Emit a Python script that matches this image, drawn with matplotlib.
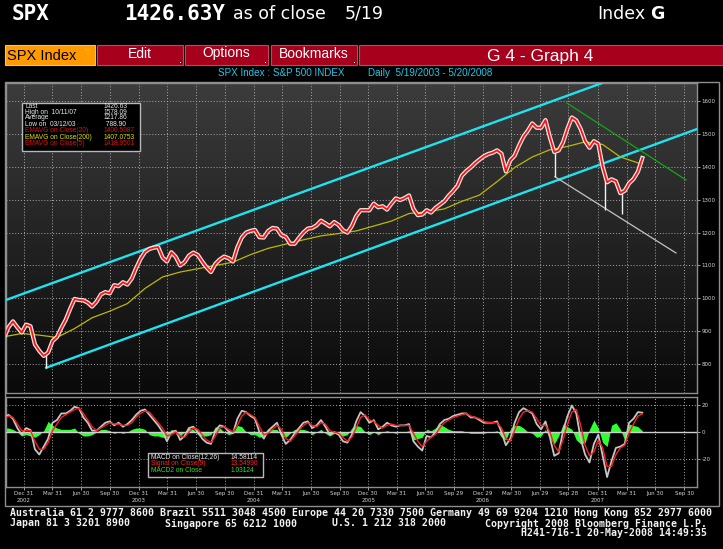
import numpy as np
import pandas as pd
import matplotlib
matplotlib.use("Agg")
import matplotlib.pyplot as plt
from matplotlib.patches import Rectangle
from matplotlib.colors import LinearSegmentedColormap

plt.rcParams["axes.unicode_minus"] = False

W, H = 723, 549

# ---- values (biweekly samples) ----
dates = pd.date_range("2002-10-29", periods=146, freq="14D")

close = [880, 912, 930, 912, 896, 920, 915, 860, 840, 825,
         835, 870, 882, 910, 935, 968, 998, 995, 994, 987,
         975, 990, 1012, 1019, 1015, 1040, 1037, 1049, 1042, 1060,
         1092, 1120, 1141, 1150, 1154, 1156, 1124, 1112, 1140, 1126,
         1100, 1110, 1130, 1139, 1132, 1112, 1094, 1080, 1105, 1118,
         1127, 1122, 1112, 1155, 1185, 1200, 1205, 1208, 1186, 1185,
         1205, 1214, 1212, 1192, 1187, 1166, 1166, 1184, 1200, 1212,
         1214, 1222, 1236, 1228, 1219, 1232, 1223, 1207, 1200, 1220,
         1250, 1268, 1268, 1268, 1288, 1277, 1280, 1270, 1288, 1304,
         1299, 1305, 1313, 1272, 1253, 1255, 1268, 1261, 1275, 1285,
         1295, 1312, 1326, 1342, 1373, 1387, 1398, 1411, 1422, 1432,
         1439, 1443, 1450, 1440, 1386, 1420, 1434, 1465, 1492, 1510,
         1532, 1519, 1519, 1542, 1490, 1445, 1450, 1475, 1516, 1550,
         1541, 1515, 1478, 1458, 1478, 1470, 1400, 1353, 1362, 1356,
         1320, 1327, 1350, 1363, 1385, 1426.63]

# 200 day EMA, read every 8 weeks
ema200_dates = dates[::4]
ema200 = [883, 893, 888, 881, 908, 941, 961, 984, 1030, 1065,
          1080, 1090, 1100, 1110, 1133, 1152, 1165, 1178, 1190, 1197,
          1205, 1220, 1235, 1258, 1263, 1272, 1295, 1314, 1355, 1398,
          1430, 1452, 1462, 1476, 1468, 1430, 1412]

# intraday lows that poke out of the band
spike_dates = pd.to_datetime(["2003-03-12", "2007-08-16", "2008-01-22", "2008-03-17"])
spike_high = [835, 1448, 1356, 1322]
spike_low = [788.9, 1370, 1270, 1256]

# drawn trend lines
upper_dates = pd.to_datetime(["2002-11-04", "2008-11-10"])
upper_vals = [995, 1760]
lower_dates = pd.to_datetime(["2003-03-12", "2008-11-10"])
lower_vals = [788.9, 1515]
down_dates = pd.to_datetime(["2007-09-23", "2008-10-06"])
down_vals = [1594, 1360]
support_dates = pd.to_datetime(["2007-08-16", "2008-09-04"])
support_vals = [1370, 1138]

macd = [11, 13, 10, 3, -2, 3, 1.5, -13, -17, -11,
        -5, 7, 9, 14, 14, 16, 19, 18, 11, 7,
        1, 1, 4, 7, 8, 5, 7, 4, 6, 9,
        13, 16, 17, 13, 9, 5, 0, -7, 0, 1,
        -6, -3, 3, 4, 0, -5, -8, -9, 1, 5,
        4, 0.5, -1, 10, 16, 15, 12, 10, 0, -5,
        1, 4, 7, -2, -9, -6, -1, 3, 7, 8,
        3, 5, 9, 4, -2, 0, -2, -7, -8, -2,
        8, 15, 12, 7, 9, 2, 4, 7, 5, 4,
        5, 5, 6, -7, -11, -14, -3, -4, 0, 6,
        9, 10, 12, 13, 14, 14, 11, 11, 9, 7,
        7, 7, 8, 0, -10, -5, 7, 15, 18, 16,
        14, 6, 2, 8, -4, -18, -16, 1, 12, 20,
        14, -5, -17, -23, -9, -2, -18, -34, -22, -12,
        -11, -9, 7, 10, 15, 14.58]

signal = [10, 12, 11, 6, 1, 1, 1, -7, -13, -13,
          -8, 1, 6, 11, 13, 15, 17, 18, 14, 9,
          4, 1, 3, 5, 7, 6, 6, 5, 5, 7,
          11, 14, 16, 15, 11, 7, 3, -3, -2, 0,
          -3, -4, 0, 3, 2, -2, -6, -8, -3, 3,
          4, 2, 0, 5, 12, 15, 13, 11, 4, -2,
          -1, 2, 5, 2, -5, -7, -3, 1, 5, 7,
          5, 4, 7, 6, 1, 0, -1, -4, -7, -4,
          3, 11, 13, 9, 8, 5, 3, 5, 6, 5,
          5, 5, 5, -1, -7, -11, -7, -4, -2, 3,
          7, 9, 11, 12, 13, 14, 12, 11, 10, 8,
          7, 7, 7, 3, -5, -7, 1, 10, 15, 16,
          15, 10, 5, 5, 0, -10, -15, -6, 6, 15,
          17, 5, -10, -18, -15, -6, -12, -26, -26, -17,
          -12, -10, -1, 6, 12, 13.55]

macd2 = [3, 3, 2, 0, -3, -2, -3, -4, -2, 1,
         8, 5, 3, 2, 2, 2, 3, -1, -3, -3,
         -2, 0, 2, 2, 1, -1, 0, -1, 0, 2,
         3, 3, 2, -2, -3, -3, -4, -4, 2, 0,
         -3, 0, 3, 2, -2, -3, -3, -2, 4, 3,
         0, -2, -1, 5, 4, 0, -2, -2, -4, -3,
         2, 2, 2, -3, -4, -1, 2, 2, 2, 1,
         -2, 0, 2, -1, -3, -1, -2, -3, -2, 3,
         5, 4, 0, -2, 0, -2, 0, 1, 0, -1,
         0, 0, 1, -6, -5, -4, 2, 1, 3, 6,
         4, 2, 1, 1, 1, 0, -1, -1, -1, -1,
         0, 0, 1, -4, -6, 2, 5, 5, 3, 0,
         -1, -4, -3, 2, -5, -9, -3, 6, 4, 2,
         -6, -9, -8, 2, 9, 3, -8, -11, 5, 7,
         2, -6, 6, 5, 4, 1.03]

q_dates = pd.to_datetime([
    "2002-12-31", "2003-03-31", "2003-06-30", "2003-09-30",
    "2003-12-31", "2004-03-31", "2004-06-30", "2004-09-30",
    "2004-12-31", "2005-03-31", "2005-06-30", "2005-09-30",
    "2005-12-30", "2006-03-31", "2006-06-30", "2006-09-29",
    "2006-12-29", "2007-03-30", "2007-06-29", "2007-09-28",
    "2007-12-31", "2008-03-31", "2008-06-30", "2008-09-30"])
q_labels = ["Dec 31", "Mar 31", "Jun 30", "Sep 30", "Dec 31", "Mar 31",
            "Jun 30", "Sep 30", "Dec 31", "Mar 31", "Jun 30", "Sep 30",
            "Dec 30", "Mar 31", "Jun 30", "Sep 29", "Dec 29", "Mar 30",
            "Jun 29", "Sep 28", "Dec 31", "Mar 31", "Jun 30", "Sep 30"]
year_labels = {0: "2002", 4: "2003", 8: "2004", 12: "2005", 16: "2006", 20: "2007"}

price_ticks = [800, 900, 1000, 1100, 1200, 1300, 1400, 1500, 1600]
macd_ticks = [-20, 0, 20]

legend_labels = ["Last", "High on  10/11/07", "Average", "Low on  03/12/03",
                 "EMAVG on Close(20)", "EMAVG on Close(200)", "EMAVG on Close(5)"]
legend_values = ["1426.63", "1578.09", "1217.86", " 788.90",
                 "1400.5987", "1407.0753", "1418.9501"]
legend_colors = ["#e8e8e8", "#e8e8e8", "#e8e8e8", "#e8e8e8",
                 "#e01010", "#e0e000", "#e01010"]

macd_labels = ["MACD on Close(12,26)", "Signal on Close(9)", "MACD2 on Close"]
macd_values = ["14.58114", "13.54990", "1.03124"]
macd_colors = ["#e8e8e8", "#ff2020", "#22e622"]

SMALL = "Liberation Sans"


def fx(x):
    return x / W


def fy(y):
    return 1 - y / H


def box(x0, y0, x1, y1, fc, ec, lw=0.8, z=5):
    r = Rectangle((fx(x0), fy(y1)), (x1 - x0) / W, (y1 - y0) / H,
                  transform=fig.transFigure, facecolor=fc, edgecolor=ec,
                  lw=lw, zorder=z)
    fig.add_artist(r)


def label(x, y, s, **kw):
    kw.setdefault("color", "white")
    kw.setdefault("va", "center")
    kw.setdefault("zorder", 12)
    fig.text(fx(x), fy(y), s, **kw)


fig = plt.figure(figsize=(W / 100, H / 100), dpi=100, facecolor="black")

rect_main = [fx(6), fy(393), (697 - 6) / W, (393 - 83) / H]
rect_macd = [fx(6), fy(487), (697 - 6) / W, (487 - 397) / H]

# gradient backdrop of the price panel
bg = fig.add_axes(rect_main, zorder=-1)
grad = np.linspace(0, 1, 256).reshape(-1, 1)
bg.imshow(grad, extent=[0, 1, 0, 1], origin="lower", aspect="auto",
          cmap=LinearSegmentedColormap.from_list("bb", ["#0a0a0a", "#3c3c3c"]))
bg.set_axis_off()

ax = fig.add_axes(rect_main)
ax.set_facecolor("none")
ax.plot(upper_dates, upper_vals, color="#1ee3f0", lw=1.7, zorder=3)
ax.plot(lower_dates, lower_vals, color="#1ee3f0", lw=1.7, zorder=3)
ax.plot(down_dates, down_vals, color="#12a812", lw=0.9, zorder=3)
ax.plot(support_dates, support_vals, color="#c4c4c4", lw=0.9, zorder=3)
ax.plot(ema200_dates, ema200, color="#bdb800", lw=0.9, zorder=3)
ax.plot(dates, close, color="#efe6e6", lw=3.1, zorder=4)
ax.vlines(spike_dates, spike_low, spike_high, color="#f2f2f2", lw=1.0, zorder=4)
ax.plot(dates, close, color="#ff1212", lw=1.3, zorder=5)

ax.set_xlim(pd.Timestamp("2002-11-04"), pd.Timestamp("2008-11-10"))
ax.set_ylim(712, 1655)
ax.set_xticks(q_dates)
ax.set_yticks(price_ticks)
ax.yaxis.tick_right()
ax.grid(True, color="#a8a8a8", linestyle=(0, (1, 2)), lw=0.7)
ax.tick_params(axis="x", length=0, labelbottom=False)
ax.tick_params(axis="y", length=2.5, width=0.7, color="#a0a0a0", pad=0.8,
               labelsize=4, labelcolor="#d4d4d4")
for s in ax.spines.values():
    s.set_color("#8e8e8e")
    s.set_linewidth(1)

# MACD panel
ax2 = fig.add_axes(rect_macd)
ax2.set_facecolor("black")
ax2.fill_between(dates, 0, macd2, color="#30ff30", lw=0, zorder=2)
ax2.axhline(0, color="#cfcfcf", lw=1.0, zorder=3)
ax2.plot(dates, macd, color="#c6c6c6", lw=1.3, zorder=4)
ax2.plot(dates, signal, color="#ff1e1e", lw=1.0, zorder=5)
ax2.set_xlim(pd.Timestamp("2002-11-04"), pd.Timestamp("2008-11-10"))
ax2.set_ylim(-41.5, 26.4)
ax2.set_yticks(macd_ticks)
ax2.yaxis.tick_right()
ax2.set_xticks(q_dates)
ax2.set_xticklabels([q_labels[i] + ("\n" + year_labels[i] if i in year_labels else "")
                     for i in range(len(q_labels))], linespacing=1.5)
ax2.grid(True, color="#a8a8a8", linestyle=(0, (1, 2)), lw=0.7)
ax2.tick_params(axis="x", length=2, width=0.7, color="#a0a0a0", pad=1.2,
                labelsize=4, labelcolor="#d4d4d4")
ax2.tick_params(axis="y", length=2.5, width=0.7, color="#a0a0a0", pad=0.8,
                labelsize=4, labelcolor="#d4d4d4")
for lab in ax2.get_xticklabels():
    lab.set_verticalalignment("top")
for s in ax2.spines.values():
    s.set_color("#8e8e8e")
    s.set_linewidth(1)

# outer frame
box(5, 82, 719, 506, "none", "#8e8e8e", lw=1, z=6)

# legend of the price panel
box(22, 103, 140, 151, "black", "#b8b8b8", lw=1, z=10)
rows = [106, 112, 118, 124, 131, 137.3, 143.6]
for yy, t, v, c in zip(rows, legend_labels, legend_values, legend_colors):
    label(25, yy, t, color=c, fontsize=4.8, family=SMALL)
    label(104, yy, v, color=c, fontsize=4.8, family=SMALL)

# legend of the MACD panel
box(148, 453, 263, 477, "black", "#b8b8b8", lw=1, z=10)
for yy, t, v, c in zip([457.3, 463.7, 470], macd_labels, macd_values, macd_colors):
    label(151, yy, t, color=c, fontsize=4.8, family=SMALL)
    label(231, yy, v, color=c, fontsize=4.8, family=SMALL)

# header line
label(12, 13.5, "SPX", fontsize=15, family="DejaVu Sans Mono", weight="bold")
label(124, 13.5, "1426.63Y", fontsize=15, family="DejaVu Sans Mono", weight="bold")
label(233, 14, "as of close", fontsize=12.5, family="DejaVu Sans")
label(345, 14, "5/19", fontsize=12.5, family="DejaVu Sans")
label(597, 14, "Index", fontsize=12.5, family="DejaVu Sans")
label(650, 14, "G", fontsize=12.5, family="DejaVu Sans", weight="bold")

# toolbar
box(5, 45, 95, 65, "#ff9a00", "#ffc060")
label(7, 55.5, "SPX Index", color="black", fontsize=10.5, family=SMALL)
label(85, 51.5, "\u25bd", color="#d8d800", fontsize=5.5, family="DejaVu Sans")
for x0, x1, t in [(97, 183, "Edit"), (185, 268, "Options"), (271, 357, "Bookmarks")]:
    box(x0, 45, x1, 65, "#a6001c", "#cc4058")
    label((x0 + x1) / 2, 53.5, t, fontsize=10, family=SMALL, ha="center")
    box(x1 - 3, 62, x1 - 2, 63, "white", "none", lw=0, z=7)
box(359, 45, 723, 65, "#a6001c", "#cc4058")
label(540, 57, "G 4 - Graph 4", fontsize=12.5, family=SMALL, ha="center")

# subtitle
label(218, 73.5, "SPX Index : S&P 500 INDEX", color="#22c8e8", fontsize=7.1, family=SMALL)
label(368, 73.5, "Daily  5/19/2003 - 5/20/2008", color="#22c8e8", fontsize=7.1, family=SMALL)

# footer
mono = dict(fontsize=7.1, family="DejaVu Sans Mono", weight="bold", color="#f2f2f2")
label(10, 513, "Australia 61 2 9777 8600 Brazil 5511 3048 4500 Europe 44 20 7330 7500 "
               "Germany 49 69 9204 1210 Hong Kong 852 2977 6000", **mono)
label(10, 523.5, "Japan 81 3 3201 8900", **mono)
label(165, 523.5, "Singapore 65 6212 1000", **mono)
label(332, 523.5, "U.S. 1 212 318 2000", **mono)
label(707, 523.5, "Copyright 2008 Bloomberg Finance L.P.", ha="right", **mono)
label(707, 533.5, "H241-716-1 20-May-2008 14:49:35", ha="right", **mono)

fig.savefig("out.png", dpi=100, facecolor="black")
